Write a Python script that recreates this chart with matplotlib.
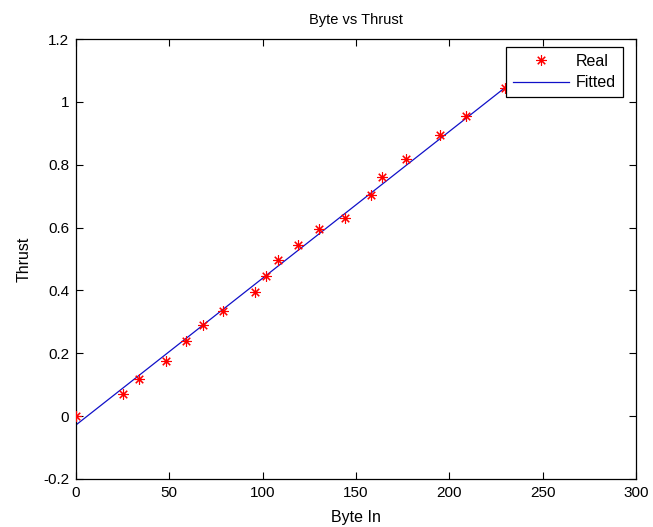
import numpy as np
import matplotlib
matplotlib.use("Agg")
import matplotlib.pyplot as plt

plt.rcParams['font.family'] = ['Liberation Sans', 'DejaVu Sans']

# Measured thrust against the command byte
byte_in = [0, 25, 34, 48, 59, 68, 79, 96, 102, 108, 119, 130, 144, 158, 164,
           177, 195, 209, 230]
thrust = [0.0, 0.069, 0.119, 0.176, 0.238, 0.289, 0.335, 0.394, 0.446, 0.496,
          0.544, 0.594, 0.631, 0.703, 0.762, 0.819, 0.896, 0.956, 1.045]

# Linear fit endpoints
fit_x = [0, 230]
fit_y = [-0.028, 1.046]

fig = plt.figure(figsize=(6.53, 5.27), dpi=100)
ax = fig.add_axes([76 / 653, 1 - 479 / 527, 560 / 653, 440 / 527])

ax.plot(byte_in, thrust, linestyle='none', marker=(8, 2, 0), color='red',
        markersize=7.5, markeredgewidth=0.8, label='Real', zorder=3)
ax.plot(fit_x, fit_y, color='#1010c8', linewidth=0.9, label='Fitted', zorder=2)

ax.set_xlim(0, 300)
ax.set_ylim(-0.2, 1.2)
ax.set_xticks(np.arange(0, 301, 50))
ax.set_yticks(np.arange(-0.2, 1.21, 0.2))
ax.set_yticklabels(['-0.2', '0', '0.2', '0.4', '0.6', '0.8', '1', '1.2'])

ax.tick_params(direction='in', top=True, right=True, length=5, width=0.8,
               labelsize=11, colors='black', pad=5)
for s in ax.spines.values():
    s.set_linewidth(0.9)

ax.set_title('Byte vs Thrust', fontsize=10.5, pad=11)
ax.set_xlabel('Byte In', fontsize=11.5, labelpad=7)
ax.set_ylabel('Thrust', fontsize=11.5, labelpad=8)

leg = ax.legend(loc='upper right', bbox_to_anchor=(0.977, 0.9825),
                borderaxespad=0, fancybox=False, framealpha=1,
                edgecolor='black', fontsize=11.5, handlelength=3.5,
                handletextpad=0.45, borderpad=0.45, labelspacing=0.4)
leg.get_frame().set_linewidth(0.9)

fig.savefig('out.png', dpi=100)
